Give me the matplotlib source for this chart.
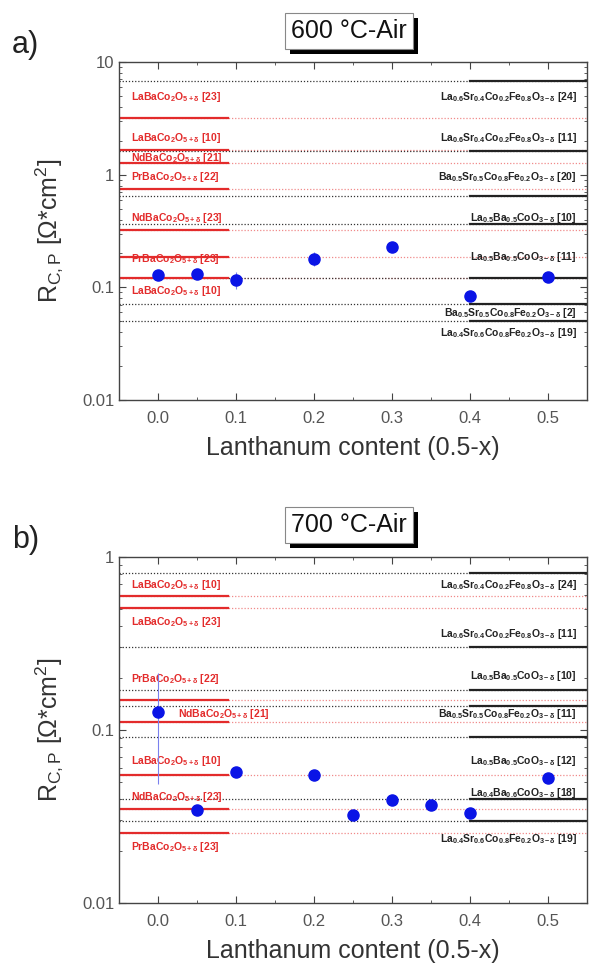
# import libraries
import matplotlib
matplotlib.use('Agg')
import matplotlib.pyplot as plt
from matplotlib.patches import Rectangle
from matplotlib.transforms import IdentityTransform

plt.rcParams['font.family'] = ['Liberation Sans', 'DejaVu Sans']
plt.rcParams['mathtext.fontset'] = 'custom'
plt.rcParams['mathtext.rm'] = 'Liberation Sans'
plt.rcParams['mathtext.it'] = 'Liberation Sans:italic'
plt.rcParams['mathtext.bf'] = 'Liberation Sans:bold'

# measured data (this work)
x_600 = [0.0, 0.05, 0.1, 0.2, 0.3, 0.4, 0.5]
r_600 = [0.129, 0.132, 0.116, 0.18, 0.229, 0.084, 0.124]
r_600_err = [0.0, 0.0, 0.02, 0.025, 0.0, 0.0, 0.0]

x_700 = [0.0, 0.05, 0.1, 0.2, 0.25, 0.3, 0.35, 0.4, 0.5]
r_700 = [0.127, 0.0345, 0.0572, 0.055, 0.0323, 0.0394, 0.0368, 0.0331, 0.0528]
r_700_lo = [0.078, 0, 0, 0, 0, 0, 0, 0, 0]
r_700_hi = [0.086, 0, 0, 0, 0, 0, 0, 0, 0]

# literature values 600 C
red_600 = [3.19, 1.66, 1.28, 0.75, 0.326, 0.184, 0.122]
red_600_lab = [r'LaBaCo$_\mathbf{2}$O$_\mathbf{5+\delta}$ [23]', r'LaBaCo$_\mathbf{2}$O$_\mathbf{5+\delta}$ [10]',
               r'NdBaCo$_\mathbf{2}$O$_\mathbf{5+\delta}$ [21]', r'PrBaCo$_\mathbf{2}$O$_\mathbf{5+\delta}$ [22]',
               r'NdBaCo$_\mathbf{2}$O$_\mathbf{5+\delta}$ [23]', r'PrBaCo$_\mathbf{2}$O$_\mathbf{5+\delta}$ [23]',
               r'LaBaCo$_\mathbf{2}$O$_\mathbf{5+\delta}$ [10]']
red_600_laby = [4.9, 2.12, 1.41, 0.96, 0.416, 0.177, 0.092]

blk_600 = [6.79, 1.61, 0.652, 0.368, 0.122, 0.0708, 0.050]
blk_600_lab = [r'La$_\mathbf{0.6}$Sr$_\mathbf{0.4}$Co$_\mathbf{0.2}$Fe$_\mathbf{0.8}$O$_\mathbf{3-\delta}$ [24]',
               r'La$_\mathbf{0.6}$Sr$_\mathbf{0.4}$Co$_\mathbf{0.2}$Fe$_\mathbf{0.8}$O$_\mathbf{3-\delta}$ [11]',
               r'Ba$_\mathbf{0.5}$Sr$_\mathbf{0.5}$Co$_\mathbf{0.8}$Fe$_\mathbf{0.2}$O$_\mathbf{3-\delta}$ [20]',
               r'La$_\mathbf{0.5}$Ba$_\mathbf{0.5}$CoO$_\mathbf{3-\delta}$ [10]',
               r'La$_\mathbf{0.5}$Ba$_\mathbf{0.5}$CoO$_\mathbf{3-\delta}$ [11]',
               r'Ba$_\mathbf{0.5}$Sr$_\mathbf{0.5}$Co$_\mathbf{0.8}$Fe$_\mathbf{0.2}$O$_\mathbf{3-\delta}$ [2]',
               r'La$_\mathbf{0.4}$Sr$_\mathbf{0.6}$Co$_\mathbf{0.8}$Fe$_\mathbf{0.2}$O$_\mathbf{3-\delta}$ [19]']
blk_600_laby = [4.9, 2.12, 0.96, 0.416, 0.184, 0.0587, 0.0394]

# literature values 700 C
red_700 = [0.595, 0.507, 0.149, 0.111, 0.055, 0.035, 0.0254]
red_700_lab = [r'LaBaCo$_\mathbf{2}$O$_\mathbf{5+\delta}$ [10]', r'LaBaCo$_\mathbf{2}$O$_\mathbf{5+\delta}$ [23]',
               r'PrBaCo$_\mathbf{2}$O$_\mathbf{5+\delta}$ [22]', r'NdBaCo$_\mathbf{2}$O$_\mathbf{5+\delta}$ [21]',
               r'LaBaCo$_\mathbf{2}$O$_\mathbf{5+\delta}$ [10]', r'NdBaCo$_\mathbf{2}$O$_\mathbf{5+\delta}$ [23]',
               r'PrBaCo$_\mathbf{2}$O$_\mathbf{5+\delta}$ [23]']
red_700_laby = [0.69, 0.420, 0.196, 0.124, 0.066, 0.041, 0.0212]
red_700_labx = [-0.035, -0.035, -0.035, 0.025, -0.035, -0.035, -0.035]

blk_700 = [0.81, 0.302, 0.170, 0.138, 0.091, 0.040, 0.0298]
blk_700_lab = [r'La$_\mathbf{0.6}$Sr$_\mathbf{0.4}$Co$_\mathbf{0.2}$Fe$_\mathbf{0.8}$O$_\mathbf{3-\delta}$ [24]',
               r'La$_\mathbf{0.6}$Sr$_\mathbf{0.4}$Co$_\mathbf{0.2}$Fe$_\mathbf{0.8}$O$_\mathbf{3-\delta}$ [11]',
               r'La$_\mathbf{0.5}$Ba$_\mathbf{0.5}$CoO$_\mathbf{3-\delta}$ [10]',
               r'Ba$_\mathbf{0.5}$Sr$_\mathbf{0.5}$Co$_\mathbf{0.8}$Fe$_\mathbf{0.2}$O$_\mathbf{3-\delta}$ [11]',
               r'La$_\mathbf{0.5}$Ba$_\mathbf{0.5}$CoO$_\mathbf{3-\delta}$ [12]',
               r'La$_\mathbf{0.4}$Ba$_\mathbf{0.6}$CoO$_\mathbf{3-\delta}$ [18]',
               r'La$_\mathbf{0.4}$Sr$_\mathbf{0.6}$Co$_\mathbf{0.8}$Fe$_\mathbf{0.2}$O$_\mathbf{3-\delta}$ [19]']
blk_700_laby = [0.69, 0.36, 0.205, 0.124, 0.066, 0.043, 0.0235]

RED = '#e32b2b'
BLUE = '#0a14e6'
GREY = '#444444'


def draw_panel(ax, red, red_lab, red_laby, red_labx, blk, blk_lab, blk_laby, ylim):
    for v in red:
        ax.axhline(v, ls=(0, (1, 1.5)), color='#f08a8a', lw=0.9, zorder=1)
        ax.plot([-0.05, 0.09], [v, v], color=RED, lw=1.6, zorder=2)
    for v in blk:
        ax.axhline(v, ls=(0, (1, 1.5)), color='#333333', lw=0.9, zorder=1)
        ax.plot([0.4, 0.55], [v, v], color='#222222', lw=1.6, zorder=2)
    for t, y, x in zip(red_lab, red_laby, red_labx):
        ax.text(x, y, t, color=RED, fontsize=7.5, va='center', ha='left', zorder=3,
                fontweight='bold')
    for t, y in zip(blk_lab, blk_laby):
        ax.text(0.537, y, t, color='#222222', fontsize=7.5, va='center', ha='right', zorder=3,
                fontweight='bold')
    ax.set_yscale('log')
    ax.set_ylim(ylim)
    ax.set_xlim(-0.05, 0.55)
    ax.set_xticks([0.0, 0.1, 0.2, 0.3, 0.4, 0.5])
    ax.set_xticks([0.05, 0.15, 0.25, 0.35, 0.45], minor=True)
    ax.set_yticks([y for y in [0.01, 0.1, 1, 10] if ylim[0] <= y <= ylim[1]])
    ax.set_yticklabels([('%g' % y) for y in ax.get_yticks()])
    ax.tick_params(which='both', direction='in', top=True, right=True, colors=GREY,
                   labelcolor='#555555', labelsize=12)
    ax.tick_params(which='major', length=5)
    ax.tick_params(which='minor', length=2.5)
    ax.tick_params(axis='x', pad=8)
    for s in ax.spines.values():
        s.set_color(GREY)
        s.set_linewidth(1.0)
    ax.set_xlabel('Lanthanum content (0.5-x)', fontsize=18, color='#333333', labelpad=7)
    ax.set_ylabel(r'R$_{\rm C,P}$ [$\Omega$*cm$^2$]', fontsize=18, color='#333333', labelpad=12)


fig = plt.figure(figsize=(5.89, 9.68), dpi=100)
ax1 = fig.add_axes([119 / 589, 1 - 400 / 968, 468 / 589, 338 / 968])
ax2 = fig.add_axes([119 / 589, 1 - 903 / 968, 468 / 589, 346 / 968])

# panel a: 600 C
draw_panel(ax1, red_600, red_600_lab, red_600_laby, [-0.035] * len(red_600),
           blk_600, blk_600_lab, blk_600_laby, (0.01, 10))
ax1.errorbar(x_600, r_600, yerr=r_600_err, fmt='o', color=BLUE, ms=8, elinewidth=0.8,
             capsize=0, zorder=5, ecolor='#7a80ee')

# panel b: 700 C
draw_panel(ax2, red_700, red_700_lab, red_700_laby, red_700_labx,
           blk_700, blk_700_lab, blk_700_laby, (0.01, 1))
ax2.errorbar(x_700, r_700, yerr=[r_700_lo, r_700_hi], fmt='o', color=BLUE, ms=8,
             elinewidth=0.8, capsize=0, zorder=5, ecolor='#7a80ee')

titles = []
for y, txt in [(1 - 31 / 968, '600 °C-Air'), (1 - 525 / 968, '700 °C-Air')]:
    t = fig.text(0.593, y, txt, fontsize=18, color='#111111', ha='center', va='center', zorder=10,
                 bbox=dict(boxstyle='square,pad=0.25', fc='white', ec='#888888', lw=0.8))
    titles.append(t)
fig.text(0.02, 1 - 45 / 968, 'a)', fontsize=22, color='#222222', va='center')
fig.text(0.02, 1 - 540 / 968, 'b)', fontsize=22, color='#222222', va='center')

# shadow behind the title boxes
fig.canvas.draw()
renderer = fig.canvas.get_renderer()
for t in titles:
    bb = t.get_bbox_patch().get_window_extent(renderer)
    fig.add_artist(Rectangle((bb.x0 + 5, bb.y0 - 5), bb.width, bb.height, transform=IdentityTransform(),
                             fc='black', ec='none', zorder=9))

plt.savefig('out.png', dpi=100)
